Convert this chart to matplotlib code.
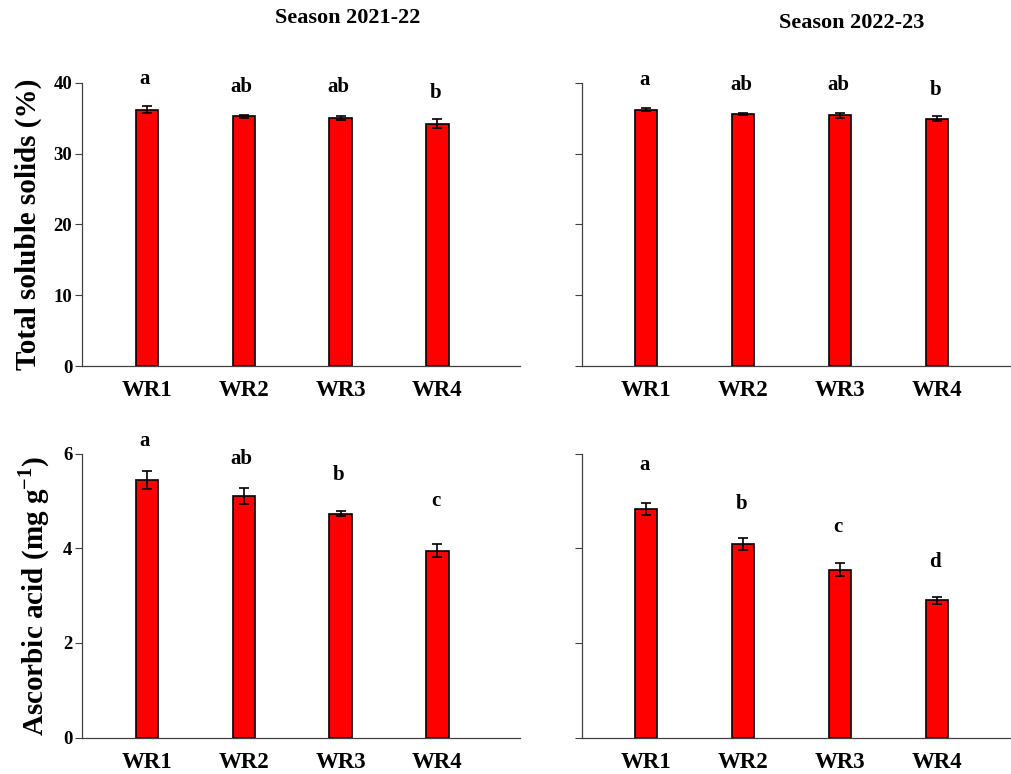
import matplotlib
matplotlib.use("Agg")
import matplotlib.pyplot as plt
import numpy as np

plt.rcParams['font.family'] = ['Liberation Serif', 'DejaVu Serif']
plt.rcParams['font.weight'] = 'bold'
plt.rcParams['mathtext.fontset'] = 'custom'
plt.rcParams['mathtext.rm'] = 'Liberation Serif:bold'
plt.rcParams['mathtext.bf'] = 'Liberation Serif:bold'

treatments = ['WR1', 'WR2', 'WR3', 'WR4']
seasons = ['Season 2021-22', 'Season 2022-23']

# total soluble solids (%)
tss_s1 = [36.2, 35.3, 35.0, 34.25]
tss_s1_err = [0.5, 0.2, 0.25, 0.7]
tss_s2 = [36.2, 35.6, 35.4, 34.9]
tss_s2_err = [0.2, 0.2, 0.4, 0.35]
tss_letters_s1 = ['a', 'ab', 'ab', 'b']
tss_letters_s2 = ['a', 'ab', 'ab', 'b']
tss_letter_y_s1 = [40.6, 39.4, 39.4, 38.6]
tss_letter_y_s2 = [40.4, 39.7, 39.7, 39.0]

# ascorbic acid (mg g-1)
aa_s1 = [5.44, 5.10, 4.73, 3.95]
aa_s1_err = [0.19, 0.17, 0.05, 0.13]
aa_s2 = [4.83, 4.09, 3.55, 2.90]
aa_s2_err = [0.13, 0.13, 0.13, 0.08]
aa_letters_s1 = ['a', 'ab', 'b', 'c']
aa_letters_s2 = ['a', 'b', 'c', 'd']
aa_letter_y_s1 = [6.27, 5.89, 5.54, 5.0]
aa_letter_y_s2 = [5.75, 4.94, 4.45, 3.70]

fig = plt.figure(figsize=(10.11, 7.74), dpi=100)

left_x = [0.0811, 0.5757]
widths = [0.433, 0.4243]
top_row = (0.527, 0.366)
bot_row = (0.047, 0.367)
xlims = [(-0.67, 3.85), (-0.66, 3.76)]

panels = [
    (0, top_row, tss_s1, tss_s1_err, tss_letters_s1, tss_letter_y_s1, (0, 40), [0, 10, 20, 30, 40]),
    (1, top_row, tss_s2, tss_s2_err, tss_letters_s2, tss_letter_y_s2, (0, 40), [0, 10, 20, 30, 40]),
    (0, bot_row, aa_s1, aa_s1_err, aa_letters_s1, aa_letter_y_s1, (0, 6), [0, 2, 4, 6]),
    (1, bot_row, aa_s2, aa_s2_err, aa_letters_s2, aa_letter_y_s2, (0, 6), [0, 2, 4, 6]),
]

x = np.arange(len(treatments))
axes = []
for col, (b, h), vals, errs, letters, ly, ylim, yticks in panels:
    ax = fig.add_axes([left_x[col], b, widths[col], h])
    ax.bar(x, vals, width=0.23, color='#ff0000', edgecolor='black', linewidth=1.2, zorder=2)
    ax.errorbar(x, vals, yerr=errs, fmt='none', ecolor='black', elinewidth=1.2,
                capsize=3.5, capthick=1.2, zorder=3)
    for xi, lt, yy in zip(x, letters, ly):
        ax.text(xi - 0.02, yy, lt, ha='center', va='center', fontsize=15,
                fontweight='bold', clip_on=False)
    ax.set_xlim(*xlims[col])
    ax.set_ylim(*ylim)
    ax.set_yticks(yticks)
    ax.set_xticks(x)
    ax.set_xticklabels(treatments, fontsize=16.5, fontweight='bold')
    ax.tick_params(axis='x', length=0, pad=10)
    ax.tick_params(axis='y', direction='out', length=5, width=0.8, color='#404040',
                   labelsize=13.5, pad=2)
    if col == 1:
        ax.tick_params(axis='y', labelleft=False)
    for s in ['top', 'right']:
        ax.spines[s].set_visible(False)
    for s in ['left', 'bottom']:
        ax.spines[s].set_color('#404040')
        ax.spines[s].set_linewidth(0.9)
    axes.append(ax)

axes[0].set_ylabel('Total soluble solids (%)', fontsize=21, fontweight='bold', labelpad=8)
axes[2].set_ylabel(r'Ascorbic acid (mg g$^{\mathbf{-1}}$)', fontsize=21, fontweight='bold', labelpad=8)

fig.text(348 / 1011, 1 - 18 / 774, seasons[0], ha='center', va='center', fontsize=16, fontweight='bold')
fig.text(852 / 1011, 1 - 23 / 774, seasons[1], ha='center', va='center', fontsize=16, fontweight='bold')

fig.savefig('out.png', dpi=100)
